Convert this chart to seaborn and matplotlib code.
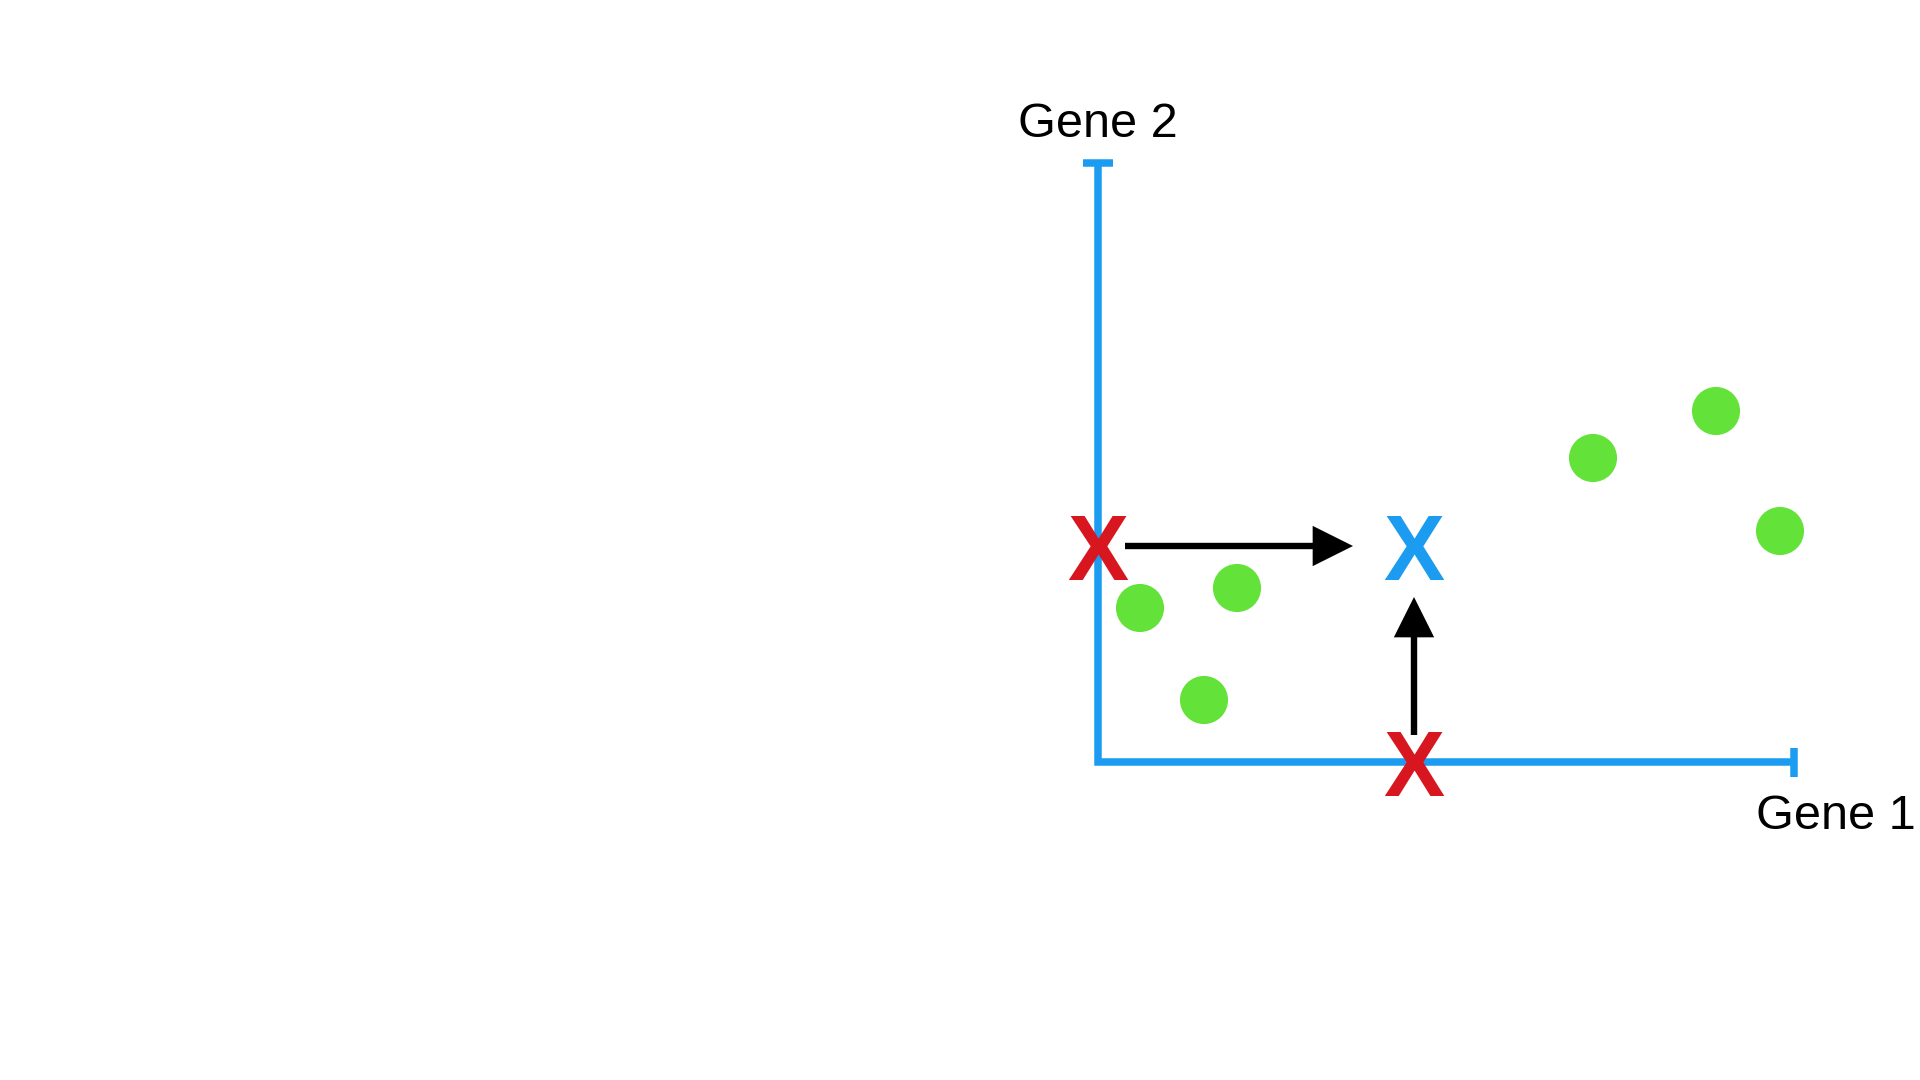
import matplotlib
matplotlib.use("Agg")
import matplotlib.pyplot as plt
import seaborn as sns
from matplotlib.patches import FancyArrowPatch

sns.set_style("white")
plt.rcParams['font.family'] = ['Liberation Sans', 'DejaVu Sans']

# data (units: gene expression, arbitrary)
gene1_cells = [0.42, 1.39, 1.06, 4.95, 6.18, 6.82]
gene2_cells = [1.54, 1.74, 0.62, 3.04, 3.51, 2.31]
gene1_max = 6.96
gene2_max = 5.99
# the highlighted sample and its projections
sample_gene1 = 3.16
sample_gene2 = 2.14
axis_labels = ["Gene 1", "Gene 2"]

blue = "#1b9cf0"
red = "#d8161f"
green = "#63e23a"

fig = plt.figure(figsize=(19.2, 10.8), dpi=100)
ax = fig.add_axes([0, 0, 1, 1])
ax.set_xlim(-10.98, 8.22)
ax.set_ylim(-3.18, 7.62)
ax.axis('off')

# gene axes
ax.plot([0, 0, gene1_max], [gene2_max, 0, 0], color=blue, lw=5.4,
        solid_joinstyle='miter', solid_capstyle='butt')
ax.plot([-0.15, 0.15], [gene2_max, gene2_max], color=blue, lw=5.4, solid_capstyle='butt')
ax.plot([gene1_max, gene1_max], [-0.15, 0.14], color=blue, lw=5.4, solid_capstyle='butt')

ax.text(0, gene2_max + 0.26, axis_labels[1], ha='center', va='baseline',
        fontsize=35, color='black')
ax.text(gene1_max + 0.42, -0.67, axis_labels[0], ha='center', va='baseline',
        fontsize=35, color='black')

# cells
sns.scatterplot(x=gene1_cells, y=gene2_cells, s=1200, color=green,
                edgecolor='none', ax=ax, zorder=3)

# projections
half_cap = 0.315
ax.text(0, sample_gene2 - half_cap, "X", color=red, fontsize=66,
        fontweight='bold', ha='center', va='baseline', zorder=4)
ax.text(sample_gene1, -0.03 - half_cap, "X", color=red, fontsize=66,
        fontweight='bold', ha='center', va='baseline', zorder=4)
ax.text(sample_gene1, sample_gene2 - half_cap, "X", color=blue, fontsize=66,
        fontweight='bold', ha='center', va='baseline', zorder=4)

arrow_style = "-|>,head_length=1.0,head_width=0.5"
for start, end in [((0.27, sample_gene2 + 0.02), (2.55, sample_gene2 + 0.02)),
                   ((sample_gene1, 0.27), (sample_gene1, 1.65))]:
    ax.add_patch(FancyArrowPatch(start, end, arrowstyle=arrow_style,
                                 mutation_scale=21.6, color='black', lw=4.6,
                                 shrinkA=0, shrinkB=0, joinstyle='miter',
                                 capstyle='butt'))

fig.savefig("out.png", dpi=100)
